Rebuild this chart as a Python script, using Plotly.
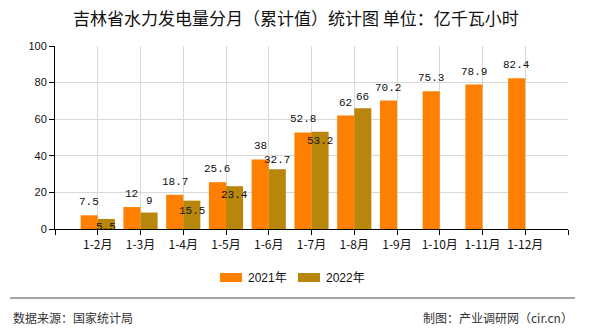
import plotly.graph_objects as go

months = ["1-2月", "1-3月", "1-4月", "1-5月", "1-6月", "1-7月", "1-8月",
          "1-9月", "1-10月", "1-11月", "1-12月"]
values_2021 = [7.5, 12, 18.7, 25.6, 38, 52.8, 62, 70.2, 75.3, 78.9, 82.4]
values_2022 = [5.5, 9, 15.5, 23.4, 32.7, 53.2, 66]
series_names = ["2021年", "2022年"]
title_text = "吉林省水力发电量分月（累计值）统计图 单位：亿千瓦小时"
source_text = "数据来源：国家统计局"
credit_text = "制图：产业调研网（cir.cn）"

# styles
color_2021 = "#FF8000"
color_2022 = "#B8860B"
label_shift_2021 = 13
label_shift_2022 = [-8, 12, -10, -9, 9, -9, 11]
W, H = 590, 330
ML, MR, MT, MB = 55, 22, 46, 101
PW, PH = W - ML - MR, H - MT - MB


def px_x(px):
    return (px - ML) / PW


def px_y(py):
    return (H - MB - py) / PH


fig = go.Figure()
fig.add_trace(go.Bar(x=list(range(len(values_2021))), y=values_2021,
                     name=series_names[0], marker_color=color_2021,
                     marker_line_width=0, offsetgroup="a"))
fig.add_trace(go.Bar(x=list(range(len(values_2022))), y=values_2022,
                     name=series_names[1], marker_color=color_2022,
                     marker_line_width=0, offsetgroup="b"))

label_font = dict(family="Liberation Mono, DejaVu Sans Mono, monospace", size=11, color="#111")
annotations = []
for i, v in enumerate(values_2021):
    annotations.append(dict(x=i - 0.2, y=v, xref="x", yref="y", text=f"{v:g}",
                            showarrow=False, yshift=label_shift_2021,
                            yanchor="middle", font=label_font))
for i, v in enumerate(values_2022):
    annotations.append(dict(x=i + 0.2, y=v, xref="x", yref="y", text=f"{v:g}",
                            showarrow=False, yshift=label_shift_2022[i],
                            yanchor="middle", font=label_font))

cjk = "Noto Sans CJK SC, sans-serif"
# title
annotations.append(dict(x=px_x(296), y=px_y(17), xref="paper", yref="paper", text=title_text,
                        showarrow=False, xanchor="center", yanchor="middle",
                        font=dict(family=cjk, size=17, color="#111")))
# footer
annotations.append(dict(x=px_x(11), y=px_y(317), xref="paper", yref="paper", text=source_text,
                        showarrow=False, xanchor="left", yanchor="middle",
                        font=dict(family=cjk, size=12, color="#333")))
annotations.append(dict(x=px_x(575), y=px_y(317), xref="paper", yref="paper", text=credit_text,
                        showarrow=False, xanchor="right", yanchor="middle",
                        font=dict(family=cjk, size=12, color="#333")))

shapes = [dict(type="line", xref="paper", yref="paper", x0=px_x(10), x1=px_x(575),
               y0=px_y(298), y1=px_y(298), line=dict(color="#888888", width=1.5))]

# custom legend
legend_items = [(series_names[0], color_2021, 220), (series_names[1], color_2022, 298)]
for name, col, x0 in legend_items:
    shapes.append(dict(type="rect", xref="paper", yref="paper", x0=px_x(x0), x1=px_x(x0 + 22),
                       y0=px_y(282), y1=px_y(273), fillcolor=col, line=dict(width=0)))
    annotations.append(dict(x=px_x(x0 + 26), y=px_y(277.5), xref="paper", yref="paper", text=name,
                            showarrow=False, xanchor="left", yanchor="middle",
                            font=dict(family="Liberation Sans, " + cjk, size=12, color="#111")))

fig.update_layout(
    width=W, height=H,
    margin=dict(l=ML, r=MR, t=MT, b=MB),
    paper_bgcolor="white", plot_bgcolor="white",
    barmode="group", bargap=0.2, bargroupgap=0,
    showlegend=False,
    annotations=annotations, shapes=shapes,
    xaxis=dict(
        range=[-1, len(months)], tickmode="array",
        tickvals=list(range(-1, len(months) + 1)),
        ticktext=[""] + months + [""],
        showgrid=True, gridcolor="#d9d9d9", gridwidth=1,
        showline=True, linecolor="#000", linewidth=1,
        ticks="outside", ticklen=5, tickcolor="#000",
        tickfont=dict(family=cjk, size=12, color="#111"),
        zeroline=False, fixedrange=True,
    ),
    yaxis=dict(
        range=[0, 100], dtick=20, tick0=0,
        showgrid=True, gridcolor="#d9d9d9", gridwidth=1,
        showline=True, linecolor="#000", linewidth=1,
        ticks="outside", ticklen=5, tickcolor="#000",
        tickfont=dict(family="Liberation Sans, Arial, sans-serif", size=11, color="#111"),
        zeroline=False, fixedrange=True,
    ),
)

fig.write_html("out.html")
